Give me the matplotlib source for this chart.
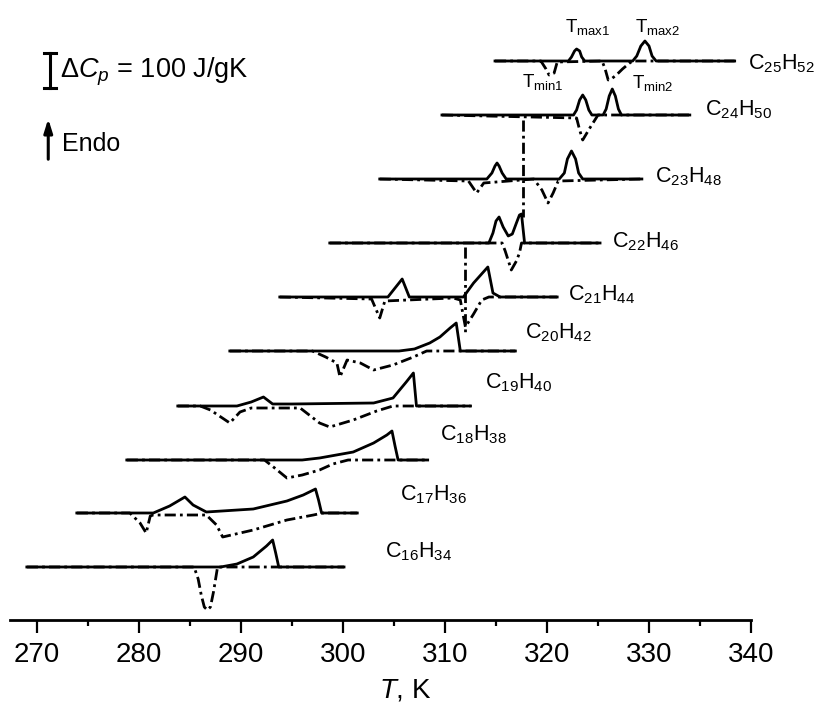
import matplotlib
matplotlib.use("Agg")
import matplotlib.pyplot as plt

plt.rcParams['font.family'] = ['Liberation Sans', 'DejaVu Sans']
plt.rcParams['mathtext.fontset'] = 'custom'
plt.rcParams['mathtext.rm'] = 'Liberation Sans'
plt.rcParams['mathtext.it'] = 'Liberation Sans:italic'

# compounds, bottom to top
names = ['C16H34', 'C17H36', 'C18H38', 'C19H40', 'C20H42',
         'C21H44', 'C22H46', 'C23H48', 'C24H50', 'C25H52']
labels = [r'C$_{16}$H$_{34}$', r'C$_{17}$H$_{36}$', r'C$_{18}$H$_{38}$',
          r'C$_{19}$H$_{40}$', r'C$_{20}$H$_{42}$', r'C$_{21}$H$_{44}$',
          r'C$_{22}$H$_{46}$', r'C$_{23}$H$_{48}$', r'C$_{24}$H$_{50}$',
          r'C$_{25}$H$_{52}$']
# vertical offset of each baseline (scale: 35 units = 100 J/gK)
offsets = [53, 107, 160, 214, 269, 323, 377, 441, 505, 559]

# heating runs (solid), T in K and deviation from baseline
heat_T = [
    [269.0, 288.0, 289.6, 291.2, 292.5, 293.1, 293.4, 293.7, 300.1],
    [273.9, 281.4, 283.0, 284.0, 284.5, 285.3, 286.6, 291.2, 294.5, 296.1, 297.3, 297.6, 297.9, 301.4],
    [278.8, 296.0, 297.7, 301.0, 303.0, 304.3, 304.8, 305.1, 305.4, 308.3],
    [283.8, 289.6, 291.0, 292.2, 293.1, 295.0, 303.0, 304.9, 306.2, 306.9, 307.2, 312.5],
    [288.9, 305.5, 307.0, 308.5, 309.5, 310.5, 311.1, 311.3, 311.5, 316.9],
    [293.8, 304.4, 305.8, 306.5, 311.8, 312.8, 314.2, 314.7, 315.4, 321.0],
    [298.7, 314.3, 314.7, 315.0, 315.3, 315.7, 316.2, 316.6, 317.0, 317.3, 317.5, 317.8, 325.2],
    [303.6, 314.1, 314.6, 314.9, 315.1, 315.3, 315.6, 316.0, 321.2, 321.7, 322.0, 322.4, 322.8, 323.1, 323.5, 329.3],
    [309.7, 322.6, 322.9, 323.2, 323.5, 323.8, 324.1, 324.4, 325.5, 325.8, 326.1, 326.4, 326.7, 327.0, 327.3, 334.0],
    [314.9, 322.1, 322.4, 322.7, 322.9, 323.2, 323.4, 323.7, 328.4, 328.8, 329.2, 329.6, 330.0, 330.3, 330.7, 338.4],
]
heat_dy = [
    [0, 0, 3, 10, 21, 27, 14, 0, 0],
    [0, 0, 7, 13, 16, 8, 1, 4, 12, 18, 24, 13, 0, 0],
    [0, 0, 2, 8, 17, 25, 29, 14, 0, 0],
    [0, 0, 4, 9, 2, 2, 3, 8, 24, 33, 0, 0],
    [0, 0, 2, 8, 14, 23, 28, 14, 0, 0],
    [0, 0, 18, 0, 0, 14, 30, 4, 0, 0],
    [0, 0, 10, 22, 26, 16, 7, 9, 20, 28, 29, 0, 0],
    [0, 0, 6, 13, 16, 13, 6, 0, 0, 6, 20, 28, 20, 6, 0, 0],
    [0, 0, 5, 15, 20, 15, 5, 0, 0, 6, 19, 26, 19, 6, 0, 0],
    [0, 0, 4, 10, 12, 10, 4, 0, 0, 5, 15, 20, 15, 5, 0, 0],
]

# cooling runs (dash-dot)
cool_T = [
    [269.0, 285.4, 285.8, 286.1, 286.4, 286.7, 287.0, 287.3, 287.7, 300.1],
    [273.9, 279.1, 280.1, 280.7, 281.1, 281.4, 286.6, 287.6, 288.2, 291.2, 294.5, 297.1, 298.0, 301.4],
    [278.8, 292.3, 293.3, 294.5, 296.0, 297.7, 299.0, 300.5, 308.3],
    [283.8, 286.0, 287.0, 288.9, 289.9, 291.0, 295.8, 297.7, 298.7, 301.0, 303.3, 304.9, 312.5],
    [288.9, 297.0, 298.3, 299.4, 299.7, 300.4, 301.7, 303.0, 304.9, 306.9, 308.2, 316.9],
    [293.8, 302.8, 303.6, 304.1, 310.8, 311.5, 312.0, 312.8, 313.6, 314.3, 321.0],
    [298.7, 315.6, 315.9, 316.5, 317.0, 317.3, 317.5, 325.2],
    [303.6, 312.3, 313.1, 313.8, 318.7, 319.5, 320.1, 320.6, 321.1, 329.3],
    [309.7, 322.9, 323.2, 323.5, 324.2, 325.0, 334.0],
    [314.9, 319.4, 319.9, 320.2, 320.7, 321.0, 325.4, 325.7, 326.0, 326.3, 326.8, 327.4, 328.1, 328.4, 338.4],
]
cool_dy = [
    [0, 0, -12, -28, -40, -43, -40, -25, 0, 0],
    [0, 0, -10, -20, -3, -2, -2, -12, -24, -17, -7, -2, 0, 0],
    [0, 0, -8, -18, -15, -10, -4, 0, 0],
    [0, 0, -4, -17, -6, -2, -2, -17, -21, -14, -5, 0, 0],
    [0, 0, -6, -12, -26, -9, -12, -19, -14, -6, 0, 0],
    [0, -2, -21, -4, -1, -3, -30, -17, -3, 0, 0],
    [0, 0, -8, -27, -18, -10, 0, 0],
    [0, -2, -14, -4, 0, -11, -24, -14, -2, 0],
    [0, -3, -15, -25, -13, 0, 0],
    [0, 0, -8, -14, -12, -1, 0, -8, -19, -18, -14, -8, -2, 0, 0],
]

# stray vertical dash-dot segments (T, top, bottom)
conn_T = [317.6, 312.0]
conn_top = [500, 373]
conn_bot = [403, 285]

# label anchor points (T, y)
label_T = [304.1, 305.6, 309.5, 313.9, 317.8, 322.1, 326.4, 330.6, 335.5, 339.7]
label_y = [70, 127, 187, 239, 289, 327, 380, 445, 512, 558]

fig = plt.figure(figsize=(8.24, 7.04), dpi=100)
ax = fig.add_axes([10 / 824, 84 / 704, 741 / 824, 620 / 704])

dd = (0, (4, 1.5, 1, 1.5))
for i in range(len(names)):
    y0 = offsets[i]
    ax.plot(cool_T[i], [y0 + v for v in cool_dy[i]], color='black',
            lw=2.0, linestyle=dd, zorder=2)
    ax.plot(heat_T[i], [y0 + v for v in heat_dy[i]], color='black',
            lw=2.0, zorder=3)
    ax.text(label_T[i], label_y[i] - 7, labels[i], fontsize=15.5,
            va='baseline', ha='left', clip_on=False)

for t, a, b in zip(conn_T, conn_top, conn_bot):
    ax.plot([t, t], [a, b], color='black', lw=2.0, linestyle=dd, zorder=2)

# scale bar and endo arrow
ax.plot([271.3, 271.3], [532, 567], color='black', lw=2.2)
ax.plot([270.7, 271.9], [567, 567], color='black', lw=2.2)
ax.plot([270.7, 271.9], [532, 532], color='black', lw=2.2)
ax.text(272.25, 548, r'$\Delta C_p$ = 100 J/gK', fontsize=19.5, va='center', ha='left')
ax.annotate('', xy=(271.1, 504), xytext=(271.1, 458),
            arrowprops=dict(arrowstyle='-|>,head_width=0.25,head_length=0.8',
                            color='black', lw=2.2))
ax.text(272.45, 476, 'Endo', fontsize=18, va='center', ha='left')

# peak annotations
ax.text(321.8, 593, r'T$_{\mathregular{max1}}$', fontsize=13.5, va='center')
ax.text(328.6, 593, r'T$_{\mathregular{max2}}$', fontsize=13.5, va='center')
ax.text(317.5, 538, r'T$_{\mathregular{min1}}$', fontsize=13.5, va='center')
ax.text(328.3, 537, r'T$_{\mathregular{min2}}$', fontsize=13.5, va='center')

ax.set_xlim(267.35, 340)
ax.set_ylim(0, 620)
for s in ['left', 'right', 'top']:
    ax.spines[s].set_visible(False)
ax.spines['bottom'].set_linewidth(2)
ax.set_yticks([])
ax.set_xticks(range(270, 341, 10))
ax.set_xticks(range(275, 340, 10), minor=True)
ax.tick_params(axis='x', which='major', direction='out', length=9, width=1.6, pad=7)
ax.tick_params(axis='x', which='minor', direction='out', length=4, width=1.6)
for lab in ax.get_xticklabels():
    lab.set_fontsize(20)
ax.set_xlabel(r'$T$, K', fontsize=20)
ax.xaxis.set_label_coords(0.533, -0.113)
ax.xaxis.label.set_va('center')

fig.savefig('out.png', dpi=100)
